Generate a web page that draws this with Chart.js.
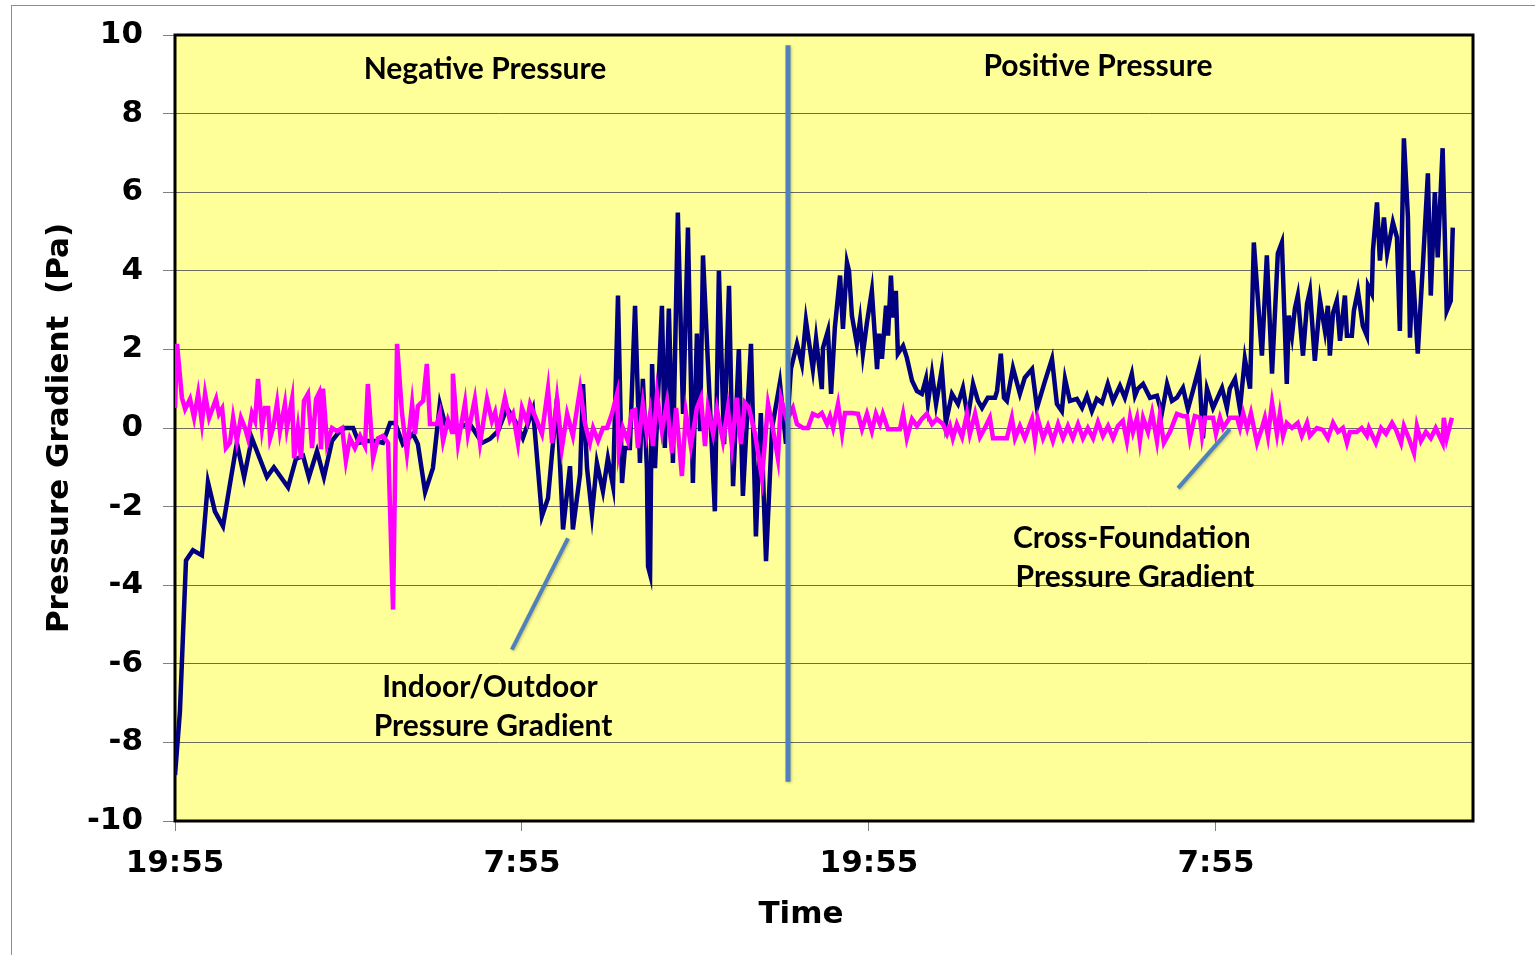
<!DOCTYPE html>
<html>
<head>
<meta charset="utf-8">
<script src="https://cdn.jsdelivr.net/npm/chart.js@4.4.1/dist/chart.umd.min.js"></script>
<style>
  body { margin: 0; background: #fff; }
  canvas { display: block; }
</style>
</head>
<body>
<canvas id="chart" width="1535" height="955"></canvas>
<script>
// hours since the first 19:55 reading
const tickHours = [0, 12, 24, 36];
const tickLabels = ['19:55', '7:55', '19:55', '7:55'];

const navyHours = [0.00,0.17,0.38,0.62,0.93,1.14,1.38,1.66,1.90,2.14,
  2.39,2.66,3.18,3.42,3.91,4.18,4.43,4.63,4.91,5.15,
  5.43,5.64,5.88,6.16,6.36,6.64,6.92,7.19,7.44,7.61,
  7.88,8.23,8.40,8.65,8.92,9.16,9.34,9.58,10.20,10.62,
  10.89,11.17,11.48,11.76,12.03,12.38,12.69,12.90,13.21,13.42,
  13.66,13.76,14.01,14.11,14.25,14.42,14.59,14.80,14.97,15.15,
  15.32,15.46,15.56,15.73,15.91,16.08,16.18,16.32,16.36,16.43,
  16.50,16.60,16.84,16.94,17.08,17.22,17.39,17.57,17.74,17.91,
  18.05,18.16,18.26,18.40,18.67,18.81,18.99,19.16,19.30,19.50,
  19.64,19.92,20.09,20.26,20.44,20.65,20.92,21.13,21.30,21.51,
  21.68,21.82,22.06,22.17,22.37,22.41,22.58,22.69,22.82,23.00,
  23.10,23.24,23.31,23.41,23.58,23.69,23.79,23.93,24.10,24.28,
  24.35,24.45,24.59,24.66,24.76,24.83,24.93,25.00,25.18,25.31,
  25.49,25.66,25.83,25.97,26.04,26.18,26.32,26.52,26.66,26.87,
  27.08,27.25,27.42,27.60,27.77,27.91,28.11,28.36,28.43,28.56,
  28.67,28.77,28.98,29.22,29.39,29.64,29.81,30.09,30.33,30.50,
  30.67,30.78,30.95,31.19,31.37,31.54,31.71,31.88,32.06,32.26,
  32.44,32.68,32.85,33.09,33.20,33.30,33.48,33.72,33.96,34.13,
  34.31,34.48,34.65,34.86,35.03,35.20,35.41,35.55,35.69,35.90,
  36.21,36.38,36.48,36.66,36.83,37.00,37.18,37.31,37.59,37.76,
  37.94,38.14,38.28,38.45,38.52,38.63,38.73,38.83,39.01,39.15,
  39.25,39.42,39.60,39.77,39.87,39.94,40.05,40.18,40.29,40.46,
  40.53,40.70,40.77,40.91,41.08,41.22,41.26,41.39,41.43,41.57,
  41.67,41.81,41.92,42.12,42.26,42.36,42.50,42.64,42.71,42.81,
  42.98,43.16,43.33,43.43,43.57,43.67,43.84,43.98,44.12,44.19];
const navyValues = [-8.83,-7.22,-3.37,-3.11,-3.24,-1.38,-2.12,-2.50,-1.43,-0.38,
  -1.25,-0.26,-1.25,-1.00,-1.51,-0.79,-0.71,-1.25,-0.59,-1.25,
  -0.33,-0.13,0,0,-0.38,-0.33,-0.33,-0.38,0.13,0.13,
  -0.41,-0.15,-0.41,-1.63,-1.02,0.61,0.10,0,0.10,-0.38,
  -0.28,-0.08,0.51,0.18,-0.26,0.48,-2.24,-1.79,0.74,-2.58,
  -0.97,-2.58,-1.17,1.12,-1.02,-2.19,-0.89,-1.61,-0.77,-1.48,
  3.37,-1.40,-0.51,-0.51,3.11,-0.89,1.25,-1.02,-3.52,-3.72,
  1.63,-1.02,3.11,-0.51,3.04,-0.89,5.48,0.36,5.10,-1.40,
  2.40,-0.08,4.39,2.14,-2.12,4.0,-0.41,3.62,-1.48,2.01,
  -1.73,2.14,-2.76,0.38,-3.39,0,1.15,-0.4,1.5,2.14,
  1.63,2.73,1.5,2.27,0.99,2.04,2.47,0.87,2.55,3.88,
  2.52,4.21,4.0,2.86,2.14,2.73,1.89,2.68,3.49,1.5,
  2.40,1.76,3.11,2.35,3.88,2.81,3.49,1.89,2.09,1.79,
  1.20,0.94,0.87,1.25,0.64,1.38,0.61,1.5,0.13,0.87,
  0.61,1.02,0.26,1.12,0.69,0.51,0.77,0.77,0.94,1.89,
  0.77,0.69,1.53,0.87,1.28,1.5,0.51,1.2,1.76,0.61,
  0.43,1.25,0.69,0.74,0.51,0.82,0.43,0.74,0.64,1.12,
  0.69,1.07,0.77,1.38,0.82,1.0,1.12,0.77,0.82,0.38,
  1.12,0.69,0.77,1.02,0.48,0.94,1.53,-0.26,1.0,0.51,
  1.02,0.51,1.0,1.25,0.48,1.76,1.0,4.72,1.84,4.39,
  1.38,4.44,4.72,1.12,2.86,2.35,3.04,3.37,1.84,3.16,
  3.49,1.71,3.24,2.47,3.11,1.84,2.93,3.24,2.22,3.37,
  2.35,2.35,2.98,3.49,2.60,2.35,3.62,3.42,4.52,5.74,
  4.26,5.36,4.44,5.23,4.85,2.47,7.37,5.36,2.30,4.0,
  1.89,4.18,6.48,3.37,6.0,4.34,7.12,2.98,3.24,5.10];

const pinkHours = [0.00,0.07,0.24,0.35,0.52,0.66,0.80,0.93,1.04,1.18,
  1.42,1.52,1.63,1.76,1.90,2.01,2.14,2.28,2.42,2.52,
  2.66,2.77,2.87,3.01,3.11,3.22,3.29,3.39,3.53,3.63,
  3.80,3.87,4.05,4.12,4.25,4.36,4.46,4.60,4.74,4.88,
  4.98,5.05,5.12,5.26,5.43,5.60,5.78,5.91,6.05,6.22,
  6.40,6.57,6.67,6.85,7.02,7.19,7.37,7.54,7.68,7.85,
  8.02,8.20,8.30,8.40,8.58,8.71,8.82,9.06,9.16,9.27,
  9.44,9.58,9.61,9.79,10.03,10.13,10.37,10.55,10.79,10.96,
  11.07,11.17,11.41,11.58,11.69,11.86,12.00,12.17,12.28,12.45,
  12.69,12.90,13.04,13.21,13.38,13.56,13.76,14.01,14.18,14.35,
  14.46,14.63,14.80,14.94,15.11,15.29,15.35,15.49,15.66,15.80,
  15.91,16.01,16.18,16.32,16.43,16.53,16.67,16.84,17.01,17.19,
  17.33,17.53,17.67,17.84,18.05,18.19,18.33,18.43,18.61,18.74,
  18.95,19.12,19.26,19.43,19.57,19.71,19.85,20.06,20.30,20.51,
  20.68,20.85,20.96,21.16,21.37,21.51,21.72,21.89,22.06,22.24,
  22.37,22.55,22.65,22.76,22.93,23.07,23.17,23.41,23.62,23.76,
  23.93,24.10,24.24,24.38,24.48,24.66,24.90,25.07,25.18,25.31,
  25.49,25.66,25.83,26.00,26.18,26.35,26.56,26.70,26.80,26.90,
  27.04,27.22,27.39,27.49,27.67,27.84,28.01,28.18,28.29,28.53,
  28.77,28.94,29.05,29.22,29.39,29.64,29.74,29.84,30.02,30.19,
  30.36,30.54,30.71,30.88,31.05,31.23,31.40,31.57,31.75,31.92,
  32.09,32.27,32.44,32.61,32.78,32.92,33.03,33.13,33.27,33.37,
  33.48,33.65,33.79,33.96,34.06,34.20,34.41,34.65,34.86,35.00,
  35.10,35.27,35.45,35.52,35.62,35.90,36.00,36.14,36.25,36.48,
  36.73,36.83,36.94,37.08,37.21,37.42,37.59,37.69,37.80,37.94,
  38.11,38.21,38.32,38.45,38.63,38.83,38.97,39.15,39.25,39.49,
  39.70,39.87,40.05,40.22,40.39,40.53,40.63,40.87,41.04,41.22,
  41.29,41.53,41.71,41.88,42.09,42.23,42.40,42.50,42.67,42.85,
  42.95,43.09,43.26,43.43,43.60,43.84,43.88,43.98,44.16];
const pinkValues = [0.51,2.14,0.77,0.48,0.74,0.26,0.87,0.13,0.87,0.26,
  0.74,0.36,0.5,-0.51,-0.38,0.26,-0.33,0.26,0,-0.26,
  0.38,0.18,1.25,0,0.51,0.51,-0.26,0,0.64,-0.08,
  0.61,0,0.74,-0.77,0,-0.77,0.69,0.87,-0.51,0.74,
  0.89,-0.54,1.0,-0.41,0,-0.08,0,-0.84,-0.26,-0.51,
  -0.2,-0.46,1.12,-0.77,-0.26,-0.2,-0.38,-4.62,2.14,0.38,
  -0.64,0.61,-0.15,0.56,0.69,1.63,0.10,0.10,0.36,-0.33,
  0.2,-0.1,1.38,-0.38,0.64,-0.15,0.74,-0.38,0.74,0.18,
  0.4,-0.08,0.77,0.2,0.36,-0.38,0.51,0.15,0.61,0.3,
  -0.15,1.0,-0.38,0.74,-0.51,0.36,-0.2,1.0,0.1,-0.38,
  0,-0.33,0,0,0.36,0.87,-0.59,0,-0.33,0.43,
  0.46,-0.51,0.61,-0.15,0.36,-0.46,0.87,-0.08,0.64,-0.64,
  0.51,-1.22,0.38,-0.46,0.51,0.77,-0.46,0.51,-0.15,0.48,
  -0.33,0.51,-0.46,0.77,-0.41,0.64,0.51,-0.15,-1.28,0.61,
  -0.03,-0.77,0.74,0.2,0.51,0.10,0,0,0.36,0.3,
  0.38,0.10,0.3,0,0.61,-0.13,0.38,0.38,0.36,-0.03,
  0.36,-0.08,0.36,0.1,0.36,-0.03,-0.03,-0.03,0.36,-0.26,
  0.23,0.05,0.23,0.36,0.1,0.23,0.1,-0.15,0.05,-0.26,
  0.1,-0.23,0.36,-0.15,0.36,-0.23,0,0.26,-0.26,-0.26,
  -0.26,0.26,-0.26,0.05,-0.26,0.23,-0.3,0.23,-0.26,0.05,
  -0.33,0.1,-0.26,0.05,-0.26,0.1,-0.26,0,-0.26,0.15,
  -0.2,0.05,-0.26,0.05,0.18,-0.33,0.26,-0.1,0.26,-0.33,
  0.26,-0.1,0.38,-0.33,0.3,-0.38,-0.1,0.36,0.3,0.3,
  -0.26,0.3,0.26,-0.2,0.26,0.26,-0.15,0.26,0,0.26,
  0.26,0,0.38,0,0.38,-0.38,0,0.26,-0.2,0.64,
  -0.15,0.36,-0.2,0.13,0,0.13,-0.2,0.13,-0.2,0,
  -0.05,-0.26,0.13,-0.1,0,-0.38,-0.1,-0.1,0,-0.2,
  0,-0.38,0,-0.15,0.13,-0.05,-0.38,0.05,-0.26,-0.64,
  0.05,-0.33,-0.1,-0.26,0,-0.38,0.26,-0.26,0.26];

// divider between the two test periods, and call-out texts / pointers
const dividerHour = 21.2;
const dividerRange = [9.74, -9.0];
const pointers = [
  [[11.65, -5.64], [13.59, -2.81]],
  [[34.69, -1.53], [36.48, -0.03]]
];
const notes = [
  { text: 'Negative Pressure', h: 10.72, v: 9.13 },
  { text: 'Positive Pressure', h: 31.92, v: 9.21 },
  { text: 'Indoor/Outdoor', h: 10.89, v: -6.61 },
  { text: 'Pressure Gradient', h: 11.0, v: -7.58 },
  { text: 'Cross-Foundation', h: 33.09, v: -2.81 },
  { text: 'Pressure Gradient', h: 33.2, v: -3.80 }
];
const xTitle = { text: 'Time', h: 21.65 };

const toPoints = (hs, vs) => hs.map((h, i) => ({ x: h, y: vs[i] }));

const decor = {
  id: 'decor',
  beforeDraw(chart) {
    const { ctx, chartArea: a } = chart;
    ctx.save();
    ctx.fillStyle = '#ffffff';
    ctx.fillRect(0, 0, chart.width, chart.height);
    ctx.strokeStyle = '#8c8c8c';
    ctx.lineWidth = 1;
    ctx.strokeRect(11.5, 5.5, chart.width, chart.height);
    ctx.fillStyle = '#FFFF99';
    ctx.fillRect(a.left, a.top, a.right - a.left, a.bottom - a.top);
    ctx.restore();
  },
  beforeDatasetsDraw(chart) {
    const { ctx, chartArea: a } = chart;
    ctx.save();
    ctx.strokeStyle = '#000';
    ctx.lineWidth = 3;
    ctx.strokeRect(a.left, a.top, a.right - a.left, a.bottom - a.top);
    ctx.restore();
  },
  afterDatasetsDraw(chart) {
    const { ctx } = chart;
    const sx = chart.scales.x, sy = chart.scales.y;
    ctx.save();
    ctx.strokeStyle = '#4F81BD';
    ctx.lineCap = 'butt';
    ctx.shadowColor = 'rgba(0,0,0,0.25)';
    ctx.shadowBlur = 3;
    ctx.shadowOffsetX = 1;
    ctx.shadowOffsetY = 1;
    ctx.lineWidth = 5;
    ctx.beginPath();
    ctx.moveTo(sx.getPixelForValue(dividerHour), sy.getPixelForValue(dividerRange[0]));
    ctx.lineTo(sx.getPixelForValue(dividerHour), sy.getPixelForValue(dividerRange[1]));
    ctx.stroke();
    ctx.lineWidth = 4;
    pointers.forEach(p => {
      ctx.beginPath();
      ctx.moveTo(sx.getPixelForValue(p[0][0]), sy.getPixelForValue(p[0][1]));
      ctx.lineTo(sx.getPixelForValue(p[1][0]), sy.getPixelForValue(p[1][1]));
      ctx.stroke();
    });
    ctx.restore();

    ctx.save();
    ctx.fillStyle = '#000';
    ctx.font = 'bold 30px Lato';
    ctx.textAlign = 'center';
    ctx.textBaseline = 'middle';
    notes.forEach(n => {
      ctx.fillText(n.text, sx.getPixelForValue(n.h), sy.getPixelForValue(n.v));
    });
    // axis title drawn here so it can sit left of the axis centre, as in the original
    ctx.font = 'bold 31px "DejaVu Sans"';
    ctx.fillText(xTitle.text, sx.getPixelForValue(xTitle.h), chart.height - 40);
    ctx.restore();
  }
};

new Chart(document.getElementById('chart'), {
  type: 'line',
  data: {
    datasets: [
      {
        label: 'Cross-Foundation Pressure Gradient',
        data: toPoints(pinkHours, pinkValues),
        borderColor: '#FF00FF',
        borderWidth: 4.5,
        pointRadius: 0,
        tension: 0,
        fill: false
      },
      {
        label: 'Indoor/Outdoor Pressure Gradient',
        data: toPoints(navyHours, navyValues),
        borderColor: '#000080',
        borderWidth: 4.5,
        pointRadius: 0,
        tension: 0,
        fill: false
      }
    ]
  },
  options: {
    responsive: false,
    animation: false,
    devicePixelRatio: 1,
    layout: { padding: { left: 0, top: 35, right: 62, bottom: 0 } },
    plugins: {
      legend: { display: false },
      tooltip: { enabled: false }
    },
    scales: {
      x: {
        type: 'linear',
        min: 0,
        max: 44.89,
        afterFit: s => { s.height = 134; },
        afterBuildTicks: s => { s.ticks = tickHours.map(v => ({ value: v })); },
        border: { display: false },
        grid: { drawOnChartArea: false, drawTicks: true, tickLength: 10, color: '#808080' },
        ticks: {
          autoSkip: false,
          maxRotation: 0,
          padding: 14,
          color: '#000',
          font: { family: 'DejaVu Sans', size: 31, weight: 'bold' },
          callback: (v, i) => tickLabels[i]
        }
      },
      y: {
        min: -10,
        max: 10,
        afterFit: s => { s.width = 175; },
        border: { display: false },
        grid: { color: '#6a6a5e', lineWidth: 1, drawTicks: true, tickLength: 12, tickColor: '#808080' },
        ticks: {
          stepSize: 2,
          padding: 20,
          color: '#000',
          font: { family: 'DejaVu Sans', size: 31, weight: 'bold', lineHeight: 0.95 }
        },
        title: {
          display: true,
          text: 'Pressure Gradient  (Pa)',
          color: '#000',
          font: { family: 'DejaVu Sans', size: 31, weight: 'bold' },
          padding: { top: 41, bottom: 0 }
        }
      }
    }
  },
  plugins: [decor]
});
</script>
</body>
</html>
